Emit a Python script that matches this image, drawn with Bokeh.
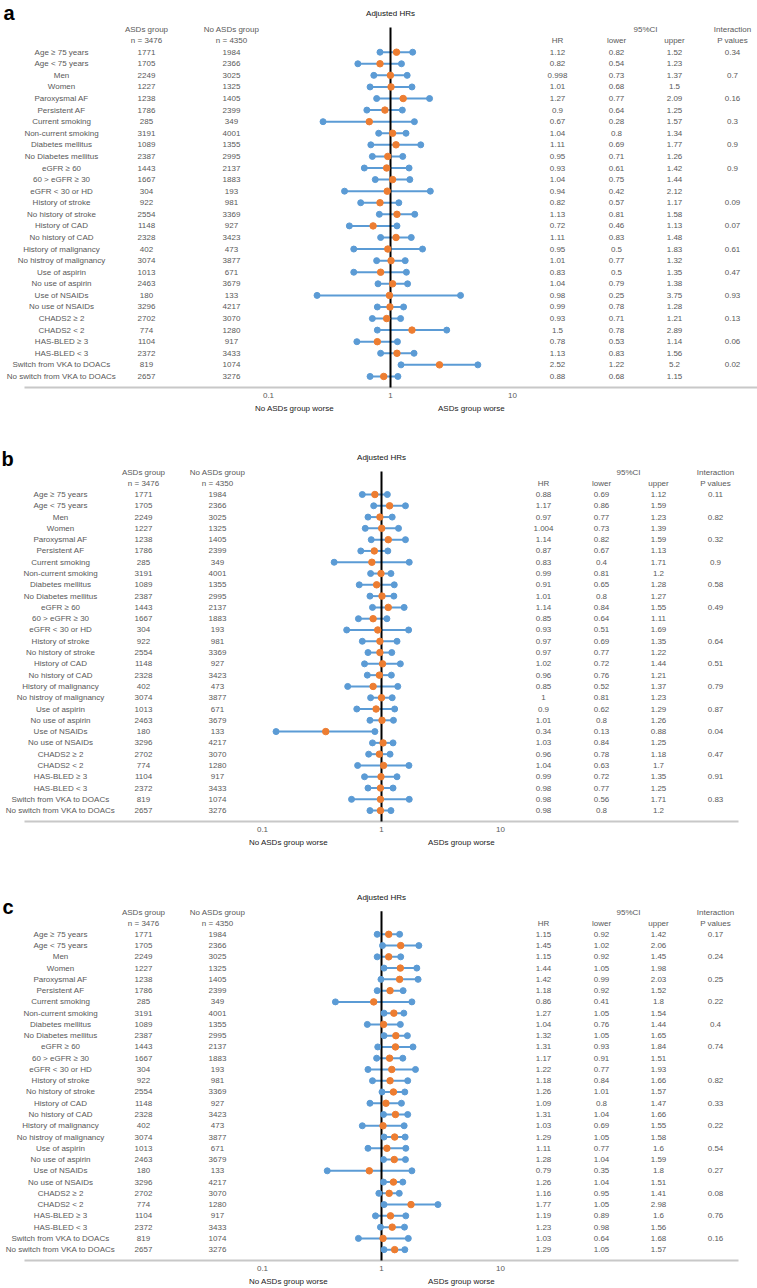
import json
from bokeh.plotting import figure
from bokeh.layouts import column
from bokeh.models import Range1d, FixedTicker, CustomJSTickFormatter, LinearAxis, LinearScale
from bokeh.core.properties import value
from bokeh.embed import file_html
from bokeh.resources import INLINE

# ---------------- data ----------------
categories = ["Age \u2265 75 years", "Age < 75 years", "Men", "Women", "Paroxysmal AF",
              "Persistent AF", "Current smoking", "Non-current smoking", "Diabetes mellitus",
              "No Diabetes mellitus", "eGFR \u2265 60", "60 > eGFR \u2265 30", "eGFR < 30 or HD",
              "History of stroke", "No history of stroke", "History of CAD", "No history of CAD",
              "History of malignancy", "No histroy of malignancy", "Use of aspirin",
              "No use of aspirin", "Use of NSAIDs", "No use of NSAIDs", "CHADS2 \u2265 2",
              "CHADS2 < 2", "HAS-BLED \u2265 3", "HAS-BLED < 3", "Switch from VKA to DOACs",
              "No switch from VKA to DOACs"]
asds_n = [1771, 1705, 2249, 1227, 1238, 1786, 285, 3191, 1089, 2387, 1443, 1667, 304, 922, 2554,
          1148, 2328, 402, 3074, 1013, 2463, 180, 3296, 2702, 774, 1104, 2372, 819, 2657]
no_asds_n = [1984, 2366, 3025, 1325, 1405, 2399, 349, 4001, 1355, 2995, 2137, 1883, 193, 981, 3369,
             927, 3423, 473, 3877, 671, 3679, 133, 4217, 3070, 1280, 917, 3433, 1074, 3276]
n_asds_total = 3476
n_no_asds_total = 4350

hr_a = [1.12, 0.82, 0.998, 1.01, 1.27, 0.9, 0.67, 1.04, 1.11, 0.95, 0.93, 1.04, 0.94, 0.82, 1.13,
        0.72, 1.11, 0.95, 1.01, 0.83, 1.04, 0.98, 0.99, 0.93, 1.5, 0.78, 1.13, 2.52, 0.88]
lower_a = [0.82, 0.54, 0.73, 0.68, 0.77, 0.64, 0.28, 0.8, 0.69, 0.71, 0.61, 0.75, 0.42, 0.57, 0.81,
           0.46, 0.83, 0.5, 0.77, 0.5, 0.79, 0.25, 0.78, 0.71, 0.78, 0.53, 0.83, 1.22, 0.68]
upper_a = [1.52, 1.23, 1.37, 1.5, 2.09, 1.25, 1.57, 1.34, 1.77, 1.26, 1.42, 1.44, 2.12, 1.17, 1.58,
           1.13, 1.48, 1.83, 1.32, 1.35, 1.38, 3.75, 1.28, 1.21, 2.89, 1.14, 1.56, 5.2, 1.15]
p_a = ["0.34", "", "0.7", "", "0.16", "", "0.3", "", "0.9", "", "0.9", "", "", "0.09", "",
       "0.07", "", "0.61", "", "0.47", "", "0.93", "", "0.13", "", "0.06", "", "0.02", ""]

hr_b = [0.88, 1.17, 0.97, 1.004, 1.14, 0.87, 0.83, 0.99, 0.91, 1.01, 1.14, 0.85, 0.93, 0.97, 0.97,
        1.02, 0.96, 0.85, 1, 0.9, 1.01, 0.34, 1.03, 0.96, 1.04, 0.99, 0.98, 0.98, 0.98]
lower_b = [0.69, 0.86, 0.77, 0.73, 0.82, 0.67, 0.4, 0.81, 0.65, 0.8, 0.84, 0.64, 0.51, 0.69, 0.77,
           0.72, 0.76, 0.52, 0.81, 0.62, 0.8, 0.13, 0.84, 0.78, 0.63, 0.72, 0.77, 0.56, 0.8]
upper_b = [1.12, 1.59, 1.23, 1.39, 1.59, 1.13, 1.71, 1.2, 1.28, 1.27, 1.55, 1.11, 1.69, 1.35, 1.22,
           1.44, 1.21, 1.37, 1.23, 1.29, 1.26, 0.88, 1.25, 1.18, 1.7, 1.35, 1.25, 1.71, 1.2]
p_b = ["0.11", "", "0.82", "", "0.32", "", "0.9", "", "0.58", "", "0.49", "", "", "0.64", "",
       "0.51", "", "0.79", "", "0.87", "", "0.04", "", "0.47", "", "0.91", "", "0.83", ""]

hr_c = [1.15, 1.45, 1.15, 1.44, 1.42, 1.18, 0.86, 1.27, 1.04, 1.32, 1.31, 1.17, 1.22, 1.18, 1.26,
        1.09, 1.31, 1.03, 1.29, 1.11, 1.28, 0.79, 1.26, 1.16, 1.77, 1.19, 1.23, 1.03, 1.29]
lower_c = [0.92, 1.02, 0.92, 1.05, 0.99, 0.92, 0.41, 1.05, 0.76, 1.05, 0.93, 0.91, 0.77, 0.84, 1.01,
           0.8, 1.04, 0.69, 1.05, 0.77, 1.04, 0.35, 1.04, 0.95, 1.05, 0.89, 0.98, 0.64, 1.05]
upper_c = [1.42, 2.06, 1.45, 1.98, 2.03, 1.52, 1.8, 1.54, 1.44, 1.65, 1.84, 1.51, 1.93, 1.66, 1.57,
           1.47, 1.66, 1.55, 1.58, 1.6, 1.59, 1.8, 1.51, 1.41, 2.98, 1.6, 1.56, 1.68, 1.57]
p_c = ["0.17", "", "0.24", "", "0.25", "", "0.22", "", "0.4", "", "0.74", "", "", "0.82", "",
       "0.33", "", "0.22", "", "0.54", "", "0.27", "", "0.08", "", "0.76", "", "0.16", ""]

tick_values = [0.1, 1, 10]
ref_hr = 1
worse_labels = ["No ASDs group worse", "ASDs group  worse"]

# ---------------- style ----------------
FONT = "Liberation Sans"
GRAY = "#595959"
BLUE = "#5B9BD5"
ORANGE = "#ED7D31"
W = 757


def fmt(v):
    return f"{v:g}"


def make_panel(letter, hr, lo, up, pv, c):
    H = c["height"]
    fh = c["frame_h"]
    row0, sp = c["row0"], c["sp"]

    def r(px):
        return (px - row0) / sp

    lo_log = -c["x1px"] / c["dec"]
    hi_log = (W - c["x1px"]) / c["dec"]
    p = figure(width=W, height=H, x_axis_type="log",
               x_range=Range1d(10 ** lo_log, 10 ** hi_log),
               y_range=Range1d(r(fh), r(0)),
               toolbar_location=None, output_backend="svg",
               min_border_left=0, min_border_right=0, min_border_top=0,
               min_border_bottom=H - fh, y_axis_location=None,
               outline_line_color=None, background_fill_color="white",
               border_fill_color="white")
    p.extra_x_ranges = {"px": Range1d(0, W)}
    p.extra_x_scales = {"px": LinearScale()}
    p.grid.visible = False

    ax = p.xaxis[0]
    ax.ticker = FixedTicker(ticks=tick_values)
    ax.formatter = CustomJSTickFormatter(code="return String(tick);")
    ax.major_tick_line_color = None
    ax.minor_tick_line_color = None
    ax.axis_line_color = None
    ax.major_tick_out = 0
    ax.major_tick_in = 0
    ax.major_label_standoff = 3
    ax.major_label_text_font = FONT
    ax.major_label_text_font_size = "8px"
    ax.major_label_text_color = GRAY

    # second axis row carrying the "worse" captions
    ax2 = LinearAxis(x_range_name="px",
                     ticker=FixedTicker(ticks=c["worse_x"]),
                     formatter=CustomJSTickFormatter(
                         code="const L = %s; return L[index];" % json.dumps(worse_labels)))
    ax2.major_tick_line_color = None
    ax2.minor_tick_line_color = None
    ax2.axis_line_color = None
    ax2.major_tick_out = 0
    ax2.major_tick_in = 0
    ax2.major_label_standoff = c["worse_standoff"]
    ax2.major_label_text_font = FONT
    ax2.major_label_text_font_size = "8px"
    ax2.major_label_text_color = "#222222"
    p.add_layout(ax2, "below")

    n = len(categories)
    ys = list(range(n))
    axis_row = r(c["axis_px"])

    # gray baseline
    p.segment(x0=[24], x1=[c["line_end"]], y0=[axis_row], y1=[axis_row],
              x_range_name="px", line_color="#c8c8c8", line_width=2)
    # CI lines
    p.segment(x0=lo, x1=up, y0=ys, y1=ys, line_color=BLUE, line_width=2)
    # reference line
    p.segment(x0=[ref_hr], x1=[ref_hr], y0=[r(c["vtop"])], y1=[axis_row],
              line_color="black", line_width=2)
    # markers
    p.scatter(x=lo, y=ys, size=6, fill_color=BLUE, line_color=BLUE)
    p.scatter(x=up, y=ys, size=6, fill_color=BLUE, line_color=BLUE)
    p.scatter(x=hr, y=ys, size=6.5, fill_color=ORANGE, line_color=ORANGE)

    cols = c["cols"]
    tkw = dict(x_range_name="px", text_font=value(FONT), text_font_size="8px",
               text_color=GRAY, text_align="center", text_baseline="middle")

    def col_text(x, texts, yy):
        p.text(x=[x] * len(texts), y=yy, text=texts, **tkw)

    col_text(cols[0], categories, ys)
    col_text(cols[1], [str(v) for v in asds_n], ys)
    col_text(cols[2], [str(v) for v in no_asds_n], ys)
    col_text(cols[3], [fmt(v) for v in hr], ys)
    col_text(cols[4], [fmt(v) for v in lo], ys)
    col_text(cols[5], [fmt(v) for v in up], ys)
    col_text(cols[7], pv, ys)

    h1, h2 = r(c["hdr1"]), r(c["hdr2"])
    p.text(x=[cols[1], cols[2], cols[6], cols[7]], y=[h1] * 4,
           text=["ASDs group", "No ASDs group", "95%CI", "Interaction"], **tkw)
    p.text(x=[cols[1], cols[2], cols[3], cols[4], cols[5], cols[7]], y=[h2] * 6,
           text=["n = %d" % n_asds_total, "n = %d" % n_no_asds_total, "HR", "lower",
                 "upper", "P values"], **tkw)

    p.text(x=[ref_hr], y=[r(c["adj"])], text=["Adjusted HRs"], text_font=value(FONT),
           text_font_size="8px", text_color="#111111", text_align="center",
           text_baseline="middle")

    p.text(x=[c["letter_x"]], y=[r(c["letter_y"])], text=[letter], x_range_name="px",
           text_font=value(FONT), text_font_size="20px", text_font_style="bold",
           text_color="black", text_align="left", text_baseline="middle")
    return p


cfg_a = dict(height=430, frame_h=389, row0=51.7, sp=11.58, x1px=390, dec=122, line_end=757,
             axis_px=387, vtop=27, letter_x=3, letter_y=12, adj=13, hdr1=29, hdr2=40,
             worse_x=[294, 472], worse_standoff=3,
             cols=[61, 146, 231, 557, 616, 674, 645, 732])
cfg_b = dict(height=430, frame_h=393, row0=64, sp=11.29, x1px=381, dec=119, line_end=738,
             axis_px=391, vtop=41, letter_x=1, letter_y=28, adj=27, hdr1=42, hdr2=53,
             worse_x=[288, 462], worse_standoff=3,
             cols=[60, 143, 217, 543, 601, 658, 628, 715])
cfg_c = dict(height=428, frame_h=403, row0=74, sp=11.29, x1px=381, dec=119, line_end=738,
             axis_px=401, vtop=51, letter_x=2, letter_y=47, adj=37, hdr1=52, hdr2=63,
             worse_x=[288, 462], worse_standoff=3,
             cols=[60, 143, 217, 543, 601, 658, 628, 715])

pa = make_panel("a", hr_a, lower_a, upper_a, p_a, cfg_a)
pb = make_panel("b", hr_b, lower_b, upper_b, p_b, cfg_b)
pc = make_panel("c", hr_c, lower_c, upper_c, p_c, cfg_c)

layout = column(pa, pb, pc, spacing=0)
open("out.html", "w").write(file_html(layout, INLINE))
